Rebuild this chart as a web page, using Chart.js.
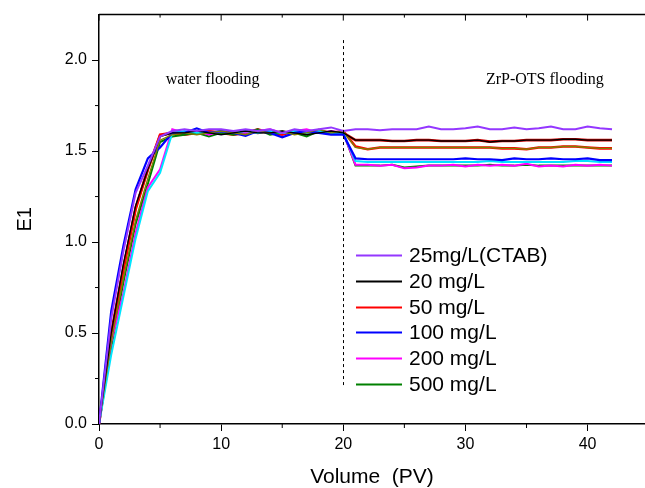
<!DOCTYPE html>
<html>
<head>
<meta charset="utf-8">
<script src="https://cdn.jsdelivr.net/npm/chart.js@4.4.1/dist/chart.umd.min.js"></script>
<style>
  html, body { margin: 0; padding: 0; background: #ffffff; }
  #wrap { width: 645px; height: 488px; }
</style>
</head>
<body>
<div id="wrap"><canvas id="c" width="645" height="488"></canvas></div>
<script>
// ---------- data ----------
const VOLUME = [0,1,2,3,4,5,6,7,8,9,10,11,12,13,14,15,16,17,18,19,20,21,22,23,24,25,26,27,28,29,30,31,32,33,34,35,36,37,38,39,40,41,42];

const E1_CTAB25 = [0,0.58,0.95,1.27,1.42,1.58,1.61,1.62,1.61,1.62,1.62,1.61,1.62,1.61,1.62,1.60,1.62,1.61,1.62,1.63,1.61,
  1.62,1.62,1.615,1.62,1.62,1.62,1.635,1.62,1.62,1.625,1.635,1.62,1.62,1.63,1.62,1.625,1.635,1.62,1.62,1.635,1.625,1.62];
const E1_20 = [0,0.50,0.88,1.20,1.40,1.58,1.60,1.60,1.61,1.60,1.59,1.60,1.61,1.60,1.60,1.61,1.60,1.59,1.60,1.61,1.60,
  1.56,1.56,1.56,1.555,1.555,1.56,1.56,1.555,1.555,1.555,1.56,1.55,1.555,1.555,1.56,1.56,1.56,1.565,1.565,1.56,1.56,1.56];
const E1_50 = [0,0.48,0.85,1.18,1.40,1.59,1.60,1.59,1.60,1.61,1.60,1.59,1.60,1.62,1.60,1.59,1.61,1.60,1.61,1.60,1.61,
  1.525,1.51,1.52,1.52,1.52,1.52,1.52,1.52,1.52,1.52,1.52,1.52,1.515,1.515,1.51,1.52,1.52,1.525,1.525,1.52,1.515,1.515];
const E1_100 = [0,0.62,0.98,1.29,1.46,1.52,1.60,1.60,1.625,1.60,1.61,1.60,1.583,1.61,1.60,1.576,1.60,1.61,1.60,1.59,1.59,
  1.46,1.455,1.455,1.455,1.455,1.455,1.455,1.455,1.455,1.46,1.455,1.455,1.45,1.46,1.455,1.455,1.46,1.455,1.455,1.46,1.45,1.45];
const E1_200 = [0,0.45,0.72,1.05,1.30,1.40,1.62,1.60,1.61,1.59,1.61,1.60,1.60,1.61,1.62,1.60,1.61,1.62,1.60,1.61,1.60,
  1.425,1.425,1.42,1.425,1.405,1.41,1.42,1.42,1.425,1.415,1.425,1.42,1.425,1.42,1.43,1.415,1.42,1.415,1.425,1.42,1.425,1.42];
const E1_500 = [0,0.42,0.78,1.10,1.32,1.55,1.58,1.59,1.60,1.58,1.60,1.59,1.60,1.62,1.59,1.60,1.60,1.58,1.61,1.60,1.60,
  1.42,1.42,1.42,1.425,1.41,1.415,1.42,1.42,1.42,1.42,1.42,1.425,1.42,1.42,1.425,1.42,1.42,1.42,1.42,1.42,1.42,1.42];
// unlabelled traces visible in the plot
const E1_CYAN = [0,0.38,0.70,1.02,1.28,1.38,1.60,1.61,1.60,1.60,1.61,1.60,1.61,1.60,1.61,1.60,1.61,1.60,1.61,1.60,1.60,
  1.445,1.44,1.44,1.44,1.44,1.44,1.44,1.44,1.44,1.44,1.44,1.445,1.44,1.44,1.44,1.44,1.44,1.44,1.445,1.445,1.44,1.44];
const E1_OLIVE = [0,0.45,0.80,1.12,1.35,1.56,1.59,1.60,1.59,1.60,1.61,1.60,1.59,1.61,1.60,1.61,1.59,1.60,1.62,1.60,1.61,
  1.52,1.51,1.52,1.52,1.52,1.52,1.52,1.52,1.52,1.52,1.52,1.52,1.515,1.515,1.51,1.52,1.52,1.525,1.525,1.52,1.515,1.515];
const E1_WINE = [0,0.50,0.86,1.19,1.40,1.585,1.60,1.60,1.61,1.60,1.60,1.60,1.61,1.60,1.61,1.60,1.60,1.60,1.61,1.60,1.60,
  1.56,1.56,1.56,1.555,1.555,1.56,1.56,1.555,1.555,1.555,1.56,1.552,1.555,1.555,1.56,1.56,1.56,1.565,1.565,1.56,1.56,1.56];

const LEGEND_LABELS = ['25mg/L(CTAB)', '20 mg/L', '50 mg/L', '100 mg/L', '200 mg/L', '500 mg/L'];
const X_TICKS = [0, 10, 20, 30, 40];
const X_MINOR = [5, 15, 25, 35];
const Y_TICKS = [0.0, 0.5, 1.0, 1.5, 2.0];
const Y_MINOR = [0.25, 0.75, 1.25, 1.75];
const DIVIDER_X = 20;
const DIVIDER_Y = [0.2, 2.11];
const STAGE_LABELS = [
  { text: 'water flooding', x: 9.3, y: 1.89 },
  { text: 'ZrP-OTS flooding', x: 36.5, y: 1.89 }
];

function pts(arr) { return VOLUME.map((v, i) => ({ x: v, y: arr[i] })); }

const datasets = [
  { label: '25mg/L(CTAB)', data: pts(E1_CTAB25), borderColor: '#9437FF', borderWidth: 2 },
  { label: '20 mg/L', data: pts(E1_20), borderColor: '#000000', borderWidth: 1.4 },
  { label: 'olive', data: pts(E1_OLIVE), borderColor: '#808000', borderWidth: 1.4 },
  { label: '100 mg/L', data: pts(E1_100), borderColor: '#0000FF', borderWidth: 2.2 },
  { label: 'cyan', data: pts(E1_CYAN), borderColor: '#00E5FF', borderWidth: 2 },
  { label: '200 mg/L', data: pts(E1_200), borderColor: '#FF00FF', borderWidth: 2 },
  { label: '500 mg/L', data: pts(E1_500), borderColor: '#008000', borderWidth: 2 },
  { label: '50 mg/L', data: pts(E1_50), borderColor: '#FF0000', borderWidth: 2.6 },
  { label: 'wine', data: pts(E1_WINE), borderColor: '#CC0000', borderWidth: 2.6 }
];
datasets.forEach(d => { d.pointRadius = 0; d.tension = 0; d.fill = false; });

const FONT = "'Liberation Sans', Arial, sans-serif";

const decor = {
  id: 'decor',
  afterDraw(chart) {
    const ctx = chart.ctx;
    const xs = chart.scales.x, ys = chart.scales.y;
    const ca = chart.chartArea;
    ctx.save();
    ctx.strokeStyle = '#000';
    // top frame line
    ctx.lineWidth = 1.5;
    ctx.beginPath();
    ctx.moveTo(ca.left, ca.top); ctx.lineTo(chart.width, ca.top);
    ctx.stroke();
    ctx.lineWidth = 1;
    // minor ticks (outward) and top ticks (inward)
    ctx.beginPath();
    X_MINOR.forEach(v => { const p = xs.getPixelForValue(v); ctx.moveTo(p, ca.bottom); ctx.lineTo(p, ca.bottom + 4); });
    Y_MINOR.forEach(v => { const p = ys.getPixelForValue(v); ctx.moveTo(ca.left, p); ctx.lineTo(ca.left - 4, p); });
    X_TICKS.concat(X_MINOR).forEach(v => {
      const p = xs.getPixelForValue(v);
      const len = X_TICKS.includes(v) ? 6 : 3;
      ctx.moveTo(p, ca.top); ctx.lineTo(p, ca.top + len);
    });
    ctx.stroke();
    // dashed divider
    const dx = Math.round(xs.getPixelForValue(DIVIDER_X)) + 0.5;
    ctx.setLineDash([3, 3]);
    ctx.beginPath();
    ctx.moveTo(dx, ys.getPixelForValue(DIVIDER_Y[1]));
    ctx.lineTo(dx, ys.getPixelForValue(DIVIDER_Y[0]));
    ctx.stroke();
    ctx.setLineDash([]);
    // stage labels
    ctx.fillStyle = '#000';
    ctx.font = "16px 'Liberation Serif', 'Times New Roman', serif";
    ctx.textAlign = 'center';
    ctx.textBaseline = 'middle';
    STAGE_LABELS.forEach(s => ctx.fillText(s.text, xs.getPixelForValue(s.x), ys.getPixelForValue(s.y)));
    // legend
    ctx.font = '21px ' + FONT;
    ctx.textAlign = 'left';
    const lx0 = 356, lx1 = 402, tx = 409, y0 = 255, dy = 25.8;
    LEGEND_LABELS.forEach((lab, i) => {
      const ds = chart.data.datasets.find(d => d.label === lab);
      const y = Math.round(y0 + i * dy) + 0.5;
      ctx.strokeStyle = ds.borderColor;
      ctx.lineWidth = 2;
      ctx.beginPath(); ctx.moveTo(lx0, y); ctx.lineTo(lx1, y); ctx.stroke();
      ctx.fillStyle = '#000';
      ctx.fillText(lab, tx, y + 1);
    });
    ctx.restore();
  }
};

new Chart(document.getElementById('c'), {
  type: 'line',
  data: { datasets },
  options: {
    responsive: false,
    animation: false,
    events: [],
    layout: { padding: { top: 14, right: 0, left: 0, bottom: 0 } },
    plugins: { legend: { display: false }, tooltip: { enabled: false } },
    scales: {
      x: {
        type: 'linear', min: 0, max: 44.7,
        afterBuildTicks: s => { s.ticks = X_TICKS.map(v => ({ value: v })); },
        afterFit: s => { s.height = 64; },
        ticks: { color: '#000', font: { size: 16, family: FONT }, padding: 4, maxRotation: 0, callback: v => String(v) },
        grid: { drawOnChartArea: false, drawTicks: true, tickLength: 7, tickColor: '#000', tickWidth: 1 },
        border: { display: true, color: '#000', width: 1.5 },
        title: { display: true, text: 'Volume  (PV)', color: '#000', font: { size: 21, family: FONT, lineHeight: 1 }, padding: { top: 0, bottom: 0 } }
      },
      y: {
        type: 'linear', min: 0, max: 2.25,
        afterBuildTicks: s => { s.ticks = Y_TICKS.map(v => ({ value: v })); },
        afterFit: s => { s.width = 99; },
        ticks: { color: '#000', font: { size: 16, family: FONT }, padding: 5, callback: v => Number(v).toFixed(1) },
        grid: { drawOnChartArea: false, drawTicks: true, tickLength: 7, tickColor: '#000', tickWidth: 1 },
        border: { display: true, color: '#000', width: 1.5 },
        title: { display: true, text: 'E1', color: '#000', font: { size: 20, family: FONT, lineHeight: 1 }, padding: { top: 15, bottom: 0 } }
      }
    }
  },
  plugins: [decor]
});
</script>
</body>
</html>
